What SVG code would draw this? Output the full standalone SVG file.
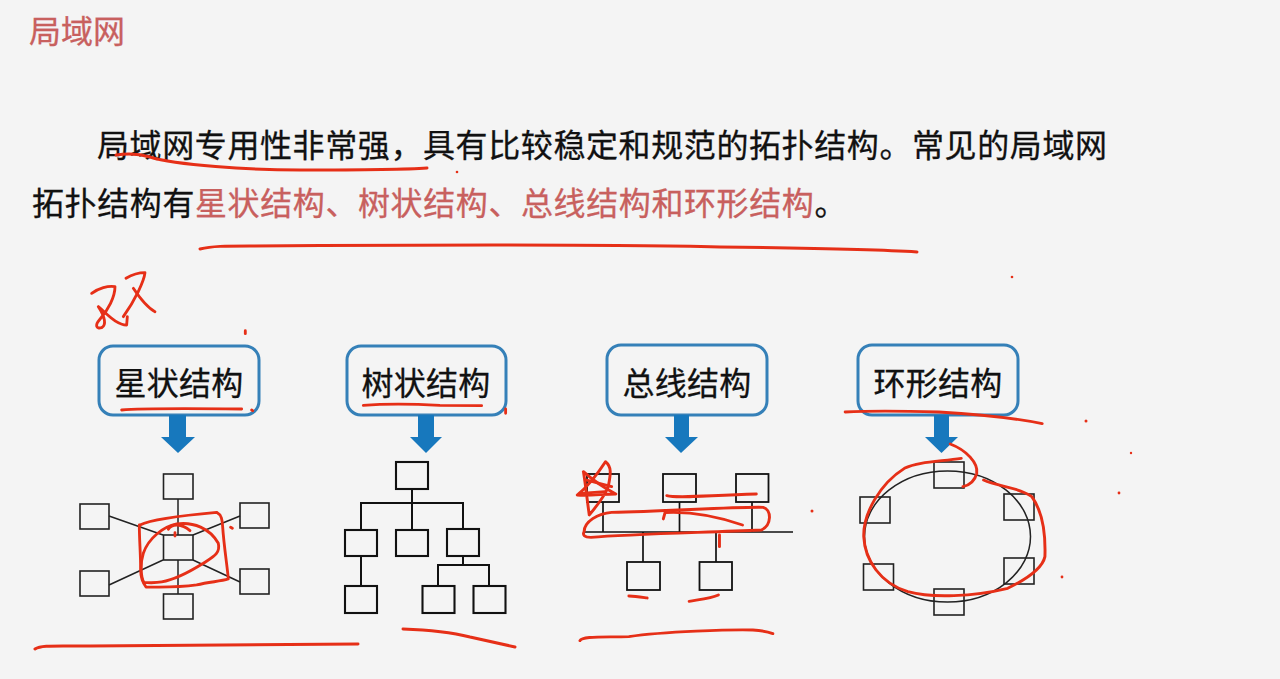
<svg xmlns="http://www.w3.org/2000/svg" width="1280" height="679" viewBox="0 0 1280 679">
<style>
text{font-family:"Noto Sans CJK SC","Liberation Sans",sans-serif;font-weight:400}
.t{font-size:32px;letter-spacing:.6px;fill:#111;stroke:#111;stroke-width:.3}
.r{fill:#c8605e;stroke:#c8605e}
.lb{font-size:32px;fill:#111;stroke:#111;stroke-width:.3;text-anchor:middle;letter-spacing:.2px}
.box{fill:none;stroke:#3580b8;stroke-width:3}
.n{fill:none;stroke:#222;stroke-width:1.6}
.n2{fill:none;stroke:#111;stroke-width:2.1}
.c{fill:none;stroke:#222;stroke-width:1.5}
.c2{fill:none;stroke:#111;stroke-width:2}
.ar{fill:#1778bd}
.ink{fill:none;stroke:#e62f17;stroke-width:3;stroke-linecap:round;stroke-linejoin:round}
.dot{fill:#e62f17}
</style>
<rect width="1280" height="679" fill="#f4f4f4"/>
<text id="title" x="29" y="43" class="r" style="font-size:32px;stroke-width:.3">局域网</text>
<text class="t" x="97" y="157">局域网专用性非常强&#xFF0C;具有比较稳定和规范的拓扑结构。常见的局域网</text>
<text class="t" x="32" y="215">拓扑结构有<tspan class="r">星状结构、树状结构、总线结构和环形结构</tspan>。</text>

<g id="connectors">
<g id="star-links">
<path d="M178 499V535M178 560V594M109 516L163 535M240 516L193 535M109 585L163 560M240 582L193 560" class="c"/>
</g>
<g id="tree-links">
<path d="M412 489V530M361 530V503H463V529M361 556V586M463 556V565M438 586V565H489V586" class="c2"/>
</g>
<g id="bus-links">
<path d="M584 532H793M603 502V532M679.500 502V532M752 502V532M643 532V562M716 532V562" class="c2" style="stroke-width:1.700"/>
</g>
<ellipse id="ring-link" cx="947.500" cy="536.500" rx="83" ry="65.500" class="c"/>
</g>

<g id="star-label"><rect class="box" x="99" y="346" width="160" height="69" rx="14"/><text class="lb" x="179" y="395">星状结构</text><path class="ar" d="M169 415H186V437H195L178 453L161 437H169Z"/></g>
<g id="tree-label"><rect class="box" x="347" y="346" width="159" height="69" rx="14"/><text class="lb" x="426" y="395">树状结构</text><path class="ar" d="M418 415H434V437H442L426 453L410 437H418Z"/></g>
<g id="bus-label"><rect class="box" x="607" y="345" width="160" height="70" rx="14"/><text class="lb" x="687" y="395">总线结构</text><path class="ar" d="M674 415H689V437H698L681 453L665 437H674Z"/></g>
<g id="ring-label"><rect class="box" x="858" y="345" width="160" height="70" rx="14"/><text class="lb" x="938" y="395">环形结构</text><path class="ar" d="M934 415H949V437H958L941.500 453L925 437H934Z"/></g>

<g id="star-top"><rect class="n" x="163.500" y="474" width="29.500" height="25"/></g>
<g id="star-lt"><rect class="n" x="80" y="504" width="29" height="25"/></g>
<g id="star-rt"><rect class="n" x="240" y="503" width="29" height="25"/></g>
<g id="star-center"><rect class="n" x="163.500" y="535" width="29.500" height="25"/></g>
<g id="star-lb"><rect class="n" x="80" y="571" width="29" height="25"/></g>
<g id="star-rb"><rect class="n" x="240" y="569" width="29" height="25"/></g>
<g id="star-bottom"><rect class="n" x="163.500" y="594" width="29.500" height="25"/></g>

<g id="tree-root"><rect class="n2" x="396" y="462" width="32" height="27"/></g>
<g id="tree-a"><rect class="n2" x="345" y="530" width="32" height="26"/></g>
<g id="tree-b"><rect class="n2" x="396" y="530" width="32" height="26"/></g>
<g id="tree-c"><rect class="n2" x="447" y="529" width="32" height="27"/></g>
<g id="tree-d"><rect class="n2" x="345" y="586" width="32" height="27"/></g>
<g id="tree-e"><rect class="n2" x="422.500" y="586" width="32" height="27"/></g>
<g id="tree-f"><rect class="n2" x="473.500" y="586" width="32" height="27"/></g>

<g id="bus-a"><rect class="n2" x="587" y="474" width="32" height="28" style="stroke-width:1.800"/></g>
<g id="bus-b"><rect class="n2" x="663" y="474" width="33" height="28" style="stroke-width:1.800"/></g>
<g id="bus-c"><rect class="n2" x="736" y="474" width="32.500" height="28" style="stroke-width:1.800"/></g>
<g id="bus-d"><rect class="n2" x="627" y="562" width="33" height="28" style="stroke-width:1.800"/></g>
<g id="bus-e"><rect class="n2" x="699.500" y="562" width="32.500" height="28" style="stroke-width:1.800"/></g>

<g id="ring-top"><rect class="n" x="934" y="462" width="30" height="26"/></g>
<g id="ring-lt"><rect class="n" x="860" y="497" width="30" height="26"/></g>
<g id="ring-lb"><rect class="n" x="863.500" y="564" width="30" height="26"/></g>
<g id="ring-bottom"><rect class="n" x="934" y="589" width="30" height="26"/></g>
<g id="ring-rt"><rect class="n" x="1004" y="494" width="30" height="26"/></g>
<g id="ring-rb"><rect class="n" x="1004" y="558" width="30" height="26"/></g>

<g id="annotations">
<g class="ink">
<path d="M116 155C130 153 140 154 150 157C175 165 250 170 300 170C345 170 400 170 427 168"/>
<path d="M200 249C212 246 225 246 250 246C400 245 600 244 720 247C800 248 870 249 917 252"/>
<path d="M35 649C41 645 52 646 90 646L358 644"/>
<path d="M403 629C430 630 450 632 470 637L515 647"/>
</g>
<g class="ink" transform="translate(20 260) scale(.3333)" style="stroke-width:8.500">
<path d="M215 100C235 85 265 76 285 80C285 110 265 150 238 180C225 195 228 208 245 203C260 195 255 170 235 140M235 140C265 165 290 195 320 195L322 170"/>
<path d="M318 55C335 45 355 38 375 38C372 65 345 120 310 170"/>
<path d="M340 85C360 115 385 145 405 155"/>
<path d="M360 795C400 775 500 765 590 757C605 765 607 780 608 800C612 860 622 920 625 957C600 965 570 965 530 975C480 982 420 982 378 981C370 970 362 950 362 930C362 880 358 840 358 795"/>
<path d="M372 968C362 950 360 910 370 880C385 835 430 800 470 792C520 785 570 805 595 850C602 880 580 890 550 910C510 935 460 960 425 966C405 970 385 968 372 968"/>
<path d="M445 808C455 790 485 790 510 812"/>
<path d="M305 450C360 445 480 445 665 447"/>
<path d="M1030 436C1100 431 1200 433 1260 436L1385 437"/>
<path d="M676 212V221M695 450L698 452M1457 447V460M632 802L637 805M465 818V828"/>
</g>
<g class="ink" transform="translate(560 340) scale(.3444 .3333)" style="stroke-width:8.500">
<path d="M68 395C95 420 130 445 162 462C125 462 85 468 50 465C80 440 110 400 132 365C150 380 148 400 140 440C130 470 105 500 85 525C80 490 75 440 68 395"/>
<path d="M75 420L150 440M60 460L130 455"/>
<path d="M70 575C70 545 110 520 150 517C300 515 500 500 590 502C615 510 615 555 585 570C400 578 200 582 90 592C70 592 65 585 70 575"/>
<path d="M310 467C340 475 400 468 570 462"/>
<path d="M300 537L305 518C360 515 430 520 530 555"/>
<path d="M463 585V620"/>
<path d="M200 768C220 768 240 772 253 774"/>
<path d="M375 784C410 778 440 775 460 765"/>
<path d="M58 902C65 888 120 892 200 890C300 875 500 868 560 870C590 872 605 876 618 881"/>
<path d="M828 216C900 212 1000 213 1100 216C1200 222 1330 236 1400 251"/>
<path d="M1165 355C1100 365 1040 365 1000 385C930 430 880 520 882 590C885 660 930 730 1010 755C1080 775 1200 770 1300 745C1340 725 1400 690 1408 650C1410 590 1405 520 1370 470C1330 440 1270 440 1230 420"/>
<path d="M1133 312C1180 330 1215 370 1210 400C1205 420 1190 435 1170 440"/>
</g>
<circle class="dot" cx="457" cy="172" r="1.300"/>
<circle class="dot" cx="812" cy="511" r="1.500"/>
<circle class="dot" cx="1012" cy="277" r="1.300"/>
<circle class="dot" cx="1086" cy="421" r="1.500"/>
<circle class="dot" cx="1131" cy="453" r="1.200"/>
<circle class="dot" cx="1119" cy="493" r="1.400"/>
<circle class="dot" cx="1062" cy="577" r="1.400"/>
</g>
</svg>
